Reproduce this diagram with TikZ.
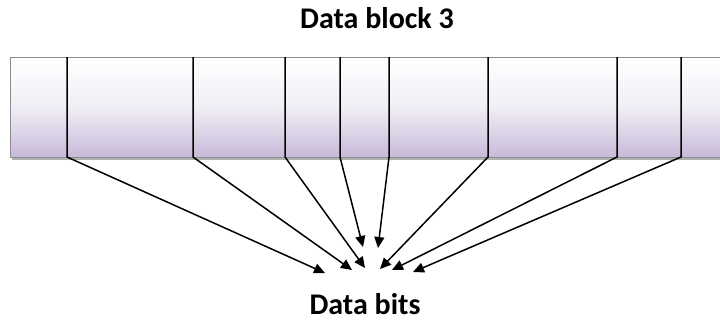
\documentclass[tikz,border=0pt]{standalone}
\usepackage{fontspec}
\setmainfont{Carlito}
\usetikzlibrary{arrows.meta}
\definecolor{lavender}{RGB}{200,186,218}
\begin{document}
\begin{tikzpicture}[x=1pt,y=-1pt,
    bit/.style={-{Triangle[length=11pt,width=10pt]},line width=1.5pt},
    label/.style={font=\fontsize{30}{36}\selectfont\bfseries}]
  \useasboundingbox (0,0) rectangle (720,322);

  % the block
  \fill[black!30] (12,59) rectangle (724,160);
  \shade[top color=white,bottom color=lavender,middle color=white!75!lavender]
    (10,57) rectangle (722,157);
  \draw[black!45] (722,57) -- (10,57) -- (10,157) -- (722,157);

  \node[label] (block) at (377,18) {Data block 3};
  \node[label] (bits) at (365,304) {Data bits};

  \foreach \n/\x/\ex/\ey in
  {1/67/325/273,2/193/352/270,3/285/365/268,4/340/363/247,
   5/389/378/248,6/488/380/269,7/617/392/270,8/681/413/272}
  {\coordinate (t\n) at (\x,57);
   \coordinate (b\n) at (\x,157);
   \coordinate (e\n) at (\ex,\ey);
   \draw[bit] (t\n) -- (b\n) -- (e\n);}
\end{tikzpicture}
\end{document}
